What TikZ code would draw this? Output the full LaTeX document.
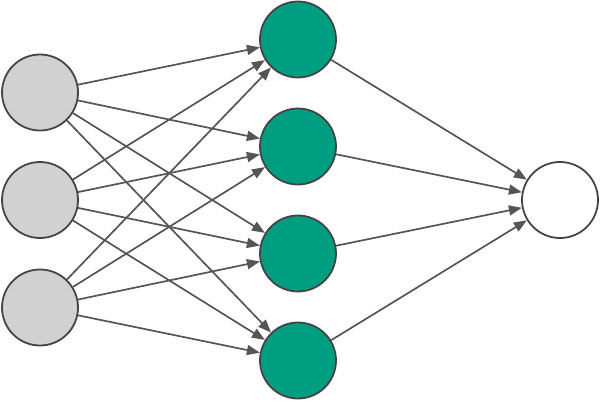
\documentclass[tikz,border=0pt]{standalone}
\usepackage{tikz}
\usetikzlibrary{arrows.meta,positioning}
\usepackage{xcolor}
\definecolor{nngreen}{RGB}{0,158,128}
\definecolor{nngray}{RGB}{209,209,209}
\definecolor{nnedge}{RGB}{68,68,68}
\definecolor{nnarrow}{RGB}{85,85,85}
\tikzstyle{arrow} = [line width=1.7pt,-{Triangle[length=13pt,width=10pt]},color=nnarrow]
\tikzstyle{inputnode} = [circle, minimum size=76pt, inner sep=0pt, draw=nnedge, fill=nngray, line width=1.8pt]
\tikzstyle{hiddennode} = [circle, minimum size=76pt, inner sep=0pt, draw=nnedge, fill=nngreen, line width=1.8pt]
\tikzstyle{outputnode} = [circle, minimum size=76pt, inner sep=0pt, draw=nnedge, fill=white, line width=1.8pt]
\begin{document}
\begin{tikzpicture}[node distance=29.2pt]
\useasboundingbox (0,0) rectangle (600pt,-400pt);

% Input layer
\node[inputnode] at (40pt,-92.5pt) (in1) {};
\node[inputnode, below=29.7pt of in1] (in2) {};
\node[inputnode, below=29.7pt of in2] (in3) {};

% Hidden layer
\node[hiddennode] at (298pt,-39.5pt) (h1) {};
\node[hiddennode, below=of h1] (h2) {};
\node[hiddennode, below=of h2] (h3) {};
\node[hiddennode, below=of h3] (h4) {};

% Output layer
\node[outputnode] at (560pt,-200pt) (out) {};

% Arrows
\draw[arrow] (in1) -- (h1);
\draw[arrow] (in1) -- (h2);
\draw[arrow] (in1) -- (h3);
\draw[arrow] (in1) -- (h4);
\draw[arrow] (in2) -- (h1);
\draw[arrow] (in2) -- (h2);
\draw[arrow] (in2) -- (h3);
\draw[arrow] (in2) -- (h4);
\draw[arrow] (in3) -- (h1);
\draw[arrow] (in3) -- (h2);
\draw[arrow] (in3) -- (h3);
\draw[arrow] (in3) -- (h4);
\draw[arrow] (h1) -- (out);
\draw[arrow] (h2) -- (out);
\draw[arrow] (h3) -- (out);
\draw[arrow] (h4) -- (out);
\end{tikzpicture}
\end{document}
